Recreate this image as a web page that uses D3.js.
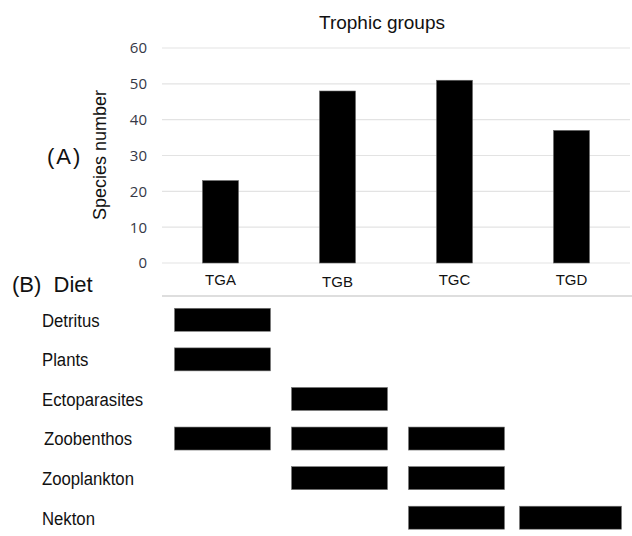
<!DOCTYPE html>
<meta charset="utf-8">
<script src="https://d3js.org/d3.v7.min.js"></script>
<style>
  body { margin: 0; background: #fff; }
  text { font-family: Arial, "Liberation Sans", sans-serif; }
</style>
<div id="my_dataviz"></div>
<script>

// groups and species counts (panel A)
var groups = ["TGA", "TGB", "TGC", "TGD"];
var speciesCount = [23, 48, 51, 37];
var yTicks = [0, 10, 20, 30, 40, 50, 60];

// diet items and which groups feed on them (panel B)
var diets = ["Detritus", "Plants", "Ectoparasites", "Zoobenthos", "Zooplankton", "Nekton"];
var dietGroups = [
  ["TGA"],
  ["TGA"],
  ["TGB"],
  ["TGA", "TGB", "TGC"],
  ["TGB", "TGC"],
  ["TGC", "TGD"]
];

var width = 632, height = 536;

var svg = d3.select("#my_dataviz")
  .append("svg")
    .attr("width", width)
    .attr("height", height);

// shared x position of groups
var x = d3.scaleBand()
  .domain(groups)
  .range([162, 630])
  .padding(0);

var y = d3.scaleLinear()
  .domain([0, 60])
  .range([263, 48]);

// gridlines
svg.append("g")
  .selectAll("line")
  .data(yTicks)
  .enter()
  .append("line")
    .attr("x1", 162)
    .attr("x2", 630)
    .attr("y1", function(d) { return y(d); })
    .attr("y2", function(d) { return y(d); })
    .attr("stroke", "#e3e3e3")
    .attr("stroke-width", 1.2);

// y tick labels
svg.append("g")
  .selectAll("text")
  .data(yTicks)
  .enter()
  .append("text")
    .attr("x", 147)
    .attr("y", function(d) { return y(d); })
    .attr("dy", "0.36em")
    .attr("text-anchor", "end")
    .style("font-family", "'Open Sans', sans-serif")
    .style("font-size", "15px")
    .attr("fill", "#353846")
    .text(function(d) { return d; });

// bars
var barW = 36;
svg.append("g")
  .selectAll("rect")
  .data(groups)
  .enter()
  .append("rect")
    .attr("x", function(d) { return x(d) + x.bandwidth() / 2 - barW / 2; })
    .attr("y", function(d, i) { return y(speciesCount[i]); })
    .attr("width", barW)
    .attr("height", function(d, i) { return y(0) - y(speciesCount[i]); })
    .attr("fill", "#000")
    .attr("stroke", "#666")
    .attr("stroke-width", 0.6);

// group labels
svg.append("g")
  .selectAll("text")
  .data(groups)
  .enter()
  .append("text")
    .attr("x", function(d) { return x(d) + x.bandwidth() / 2; })
    .attr("y", function(d) { return d == "TGB" ? 287 : 285; })
    .attr("text-anchor", "middle")
    .style("font-size", "15px")
    .attr("fill", "#111")
    .text(function(d) { return d; });

// title, axis label, panel labels
svg.append("text")
  .attr("x", 382)
  .attr("y", 29)
  .attr("text-anchor", "middle")
  .style("font-size", "19px")
  .attr("fill", "#111")
  .text("Trophic groups");

svg.append("text")
  .attr("transform", "translate(106,155)rotate(-90)")
  .attr("text-anchor", "middle")
  .style("font-size", "18px")
  .attr("fill", "#111")
  .text("Species number");

svg.append("text")
  .attr("x", 47)
  .attr("y", 164)
  .style("font-size", "22px")
  .style("letter-spacing", "2px")
  .attr("fill", "#111")
  .text("(A)");

svg.append("text")
  .attr("x", 12)
  .attr("y", 292)
  .style("font-size", "22px")
  .style("white-space", "pre")
  .attr("fill", "#111")
  .text("(B)  Diet");

// separator line
svg.append("line")
  .attr("x1", 162)
  .attr("x2", 632)
  .attr("y1", 296)
  .attr("y2", 296)
  .attr("stroke", "#bdbdbd")
  .attr("stroke-width", 1.2);

// panel B rows
var yd = d3.scaleBand()
  .domain(diets)
  .range([300, 537.5])
  .padding(0);

svg.append("g")
  .selectAll("text")
  .data(diets)
  .enter()
  .append("text")
    .attr("transform", function(d) {
      var tx = d == "Zoobenthos" ? 44 : 42;
      return "translate(" + tx + "," + (yd(d) + yd.bandwidth() / 2) + ")scale(0.88,1)";
    })
    .attr("dy", "0.36em")
    .style("font-size", "19px")
    .attr("fill", "#111")
    .text(function(d) { return d; });

var cells = [];
diets.forEach(function(d, i) {
  dietGroups[i].forEach(function(g) { cells.push({diet: d, group: g}); });
});

var cellW = 96, cellH = 23;
svg.append("g")
  .selectAll("rect")
  .data(cells)
  .enter()
  .append("rect")
    .attr("x", function(d) {
      var c = x(d.group) + x.bandwidth() / 2;
      return d.group == "TGD" ? c - 52 : c - cellW / 2 + 2;
    })
    .attr("y", function(d) { return yd(d.diet) + yd.bandwidth() / 2 - cellH / 2; })
    .attr("width", function(d) { return d.group == "TGD" ? cellW + 6 : cellW; })
    .attr("height", cellH)
    .attr("fill", "#000")
    .attr("stroke", "#777")
    .attr("stroke-width", 0.6);

</script>
